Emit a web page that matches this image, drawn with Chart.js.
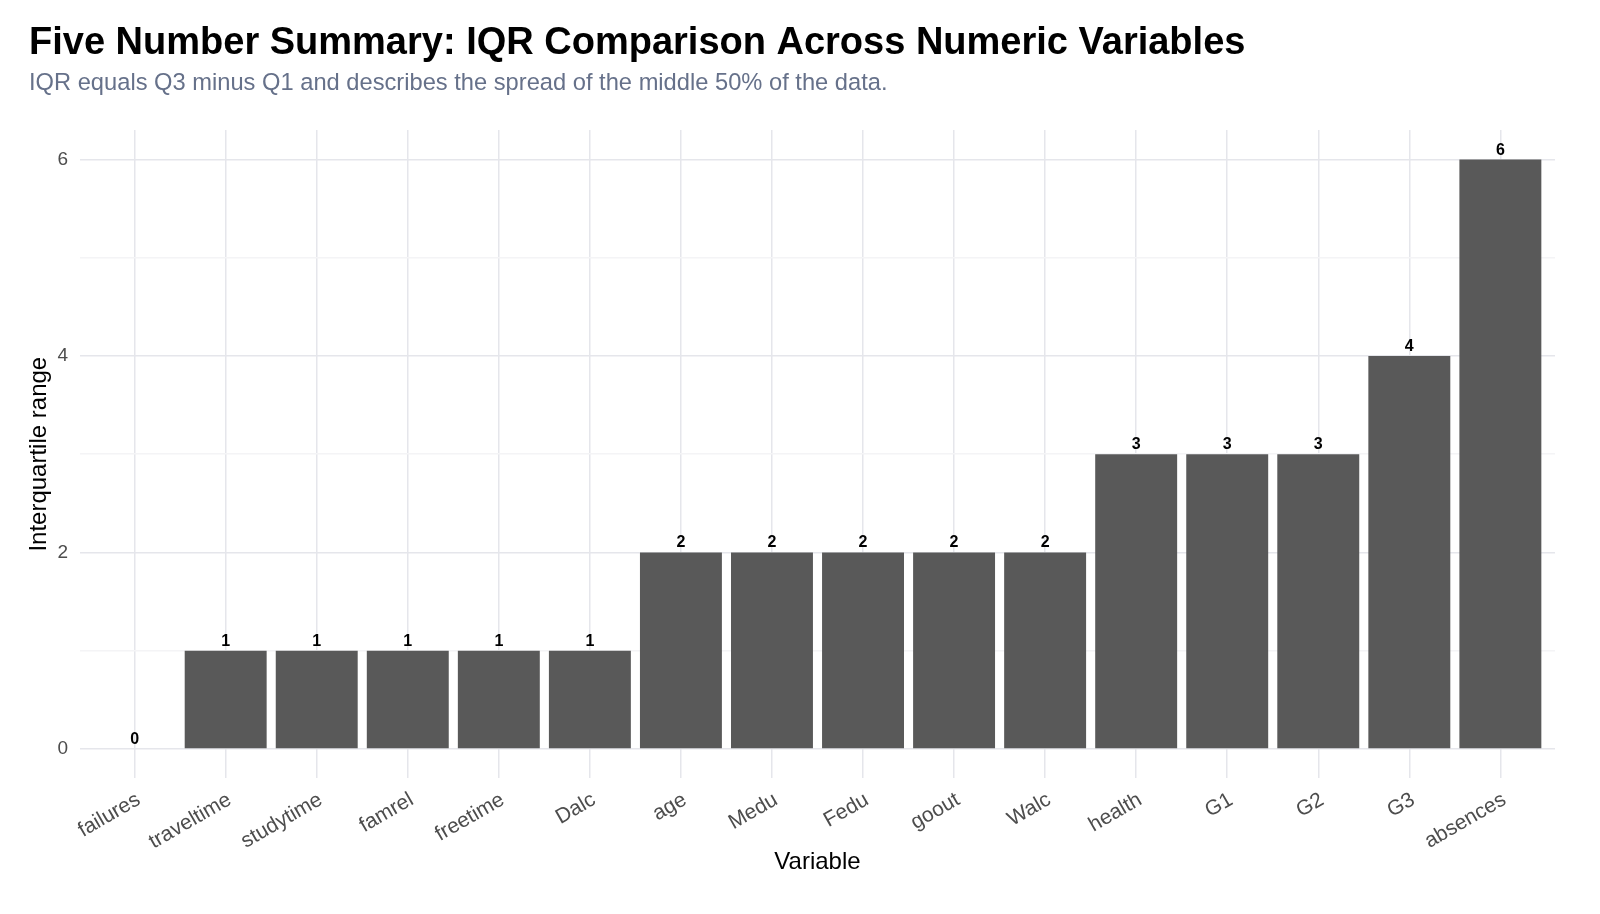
<!DOCTYPE html>
<html>
<head>
<meta charset="utf-8">
<script src="https://cdn.jsdelivr.net/npm/chart.js@4/dist/chart.umd.min.js"></script>
<style>
  html, body { margin: 0; padding: 0; background: #fff; }
  #wrap { width: 1600px; height: 914px; }
</style>
</head>
<body>
<div id="wrap"><canvas id="iqrChart" width="1600" height="914"></canvas></div>
<script>
// data
const variables = ["failures", "traveltime", "studytime", "famrel", "freetime", "Dalc", "age", "Medu",
  "Fedu", "goout", "Walc", "health", "G1", "G2", "G3", "absences"];
const iqrValues = [0, 1, 1, 1, 1, 1, 2, 2, 2, 2, 2, 3, 3, 3, 4, 6];
const yTicks = [0, 1, 2, 3, 4, 5, 6];

const FONT = "'Liberation Sans', Arial, Helvetica, sans-serif";
const gridMajor = "#e5e6eb";
const gridMinor = "#f4f4f6";

// value labels on top of bars
const barLabels = {
  id: "barLabels",
  afterDatasetsDraw(chart) {
    const ctx = chart.ctx;
    const meta = chart.getDatasetMeta(0);
    ctx.save();
    ctx.font = "bold 16px " + FONT;
    ctx.fillStyle = "#000";
    ctx.textAlign = "center";
    ctx.textBaseline = "alphabetic";
    meta.data.forEach((bar, i) => {
      ctx.fillText(String(iqrValues[i]), bar.x, bar.y - 5);
    });
    ctx.restore();
  },
};

const ctx = document.getElementById("iqrChart").getContext("2d");
const chart = new Chart(ctx, {
  type: "bar",
  data: {
    datasets: [
      {
        data: variables.map((v, i) => ({ x: i, y: iqrValues[i] })),
        backgroundColor: "#595959",
        borderWidth: 0,
        barPercentage: 0.9,
        categoryPercentage: 1,
      },
    ],
  },
  options: {
    responsive: false,
    animation: false,
    layout: { padding: { left: 29, right: 45, top: 0, bottom: 37 } },
    plugins: {
      legend: { display: false },
      tooltip: { enabled: false },
      title: {
        display: true,
        text: "Five Number Summary: IQR Comparison Across Numeric Variables",
        align: "start",
        color: "#000",
        font: { family: FONT, size: 38, weight: "bold" },
        padding: { top: 21, bottom: 3 },
      },
      subtitle: {
        display: true,
        text: "IQR equals Q3 minus Q1 and describes the spread of the middle 50% of the data.",
        align: "start",
        color: "#66718a",
        font: { family: FONT, size: 23.7 },
        padding: { top: 0, bottom: 32 },
      },
    },
    scales: {
      x: {
        type: "linear",
        offset: false,
        min: -0.6,
        max: variables.length - 1 + 0.6,
        afterBuildTicks: (scale) => {
          scale.ticks = variables.map((v, i) => ({ value: i }));
        },
        afterFit: (scale) => {
          scale.height = 98.6;
        },
        grid: { color: gridMajor, lineWidth: 1.5, drawTicks: false, offset: false },
        border: { display: false },
        ticks: {
          autoSkip: false,
          minRotation: 30,
          maxRotation: 30,
          padding: 9,
          labelOffset: 4,
          color: "#4d4d4d",
          font: { family: FONT, size: 21 },
          callback: (value) => variables[value],
        },
        title: {
          display: true,
          text: "Variable",
          color: "#000",
          font: { family: FONT, size: 24 },
          padding: { top: 0, bottom: 0 },
        },
      },
      y: {
        min: -0.3,
        max: 6.3,
        afterBuildTicks: (scale) => {
          scale.ticks = yTicks.map((v) => ({ value: v }));
        },
        afterFit: (scale) => {
          scale.width = 51;
        },
        grid: {
          color: (c) => (c.tick && c.tick.value % 2 === 0 ? gridMajor : gridMinor),
          lineWidth: 1.5,
          drawTicks: false,
        },
        border: { display: false },
        ticks: {
          padding: 12,
          color: "#4d4d4d",
          font: { family: FONT, size: 19 },
          callback: (value) => (value % 2 === 0 ? String(value) : ""),
        },
        title: {
          display: true,
          text: "Interquartile range",
          color: "#000",
          font: { family: FONT, size: 24 },
          padding: { top: -4, bottom: 0 },
        },
      },
    },
  },
  plugins: [barLabels],
});
</script>
</body>
</html>
